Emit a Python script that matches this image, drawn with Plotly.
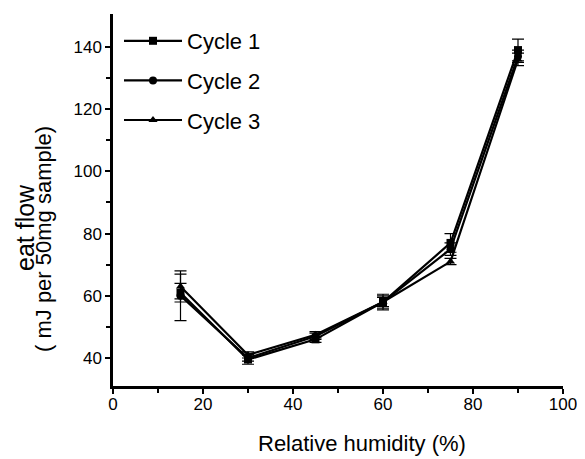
import plotly.graph_objects as go

humidity = [15, 30, 45, 60, 75, 90]
cycle1 = [61, 39.5, 46, 58, 77, 139]
cycle1_err = [3, 1.5, 1, 2, 3, 3.5]
cycle2 = [60, 40, 47, 58, 75, 137]
cycle2_err = [8, 1, 1, 1.5, 2, 2]
cycle3 = [63, 41, 47.5, 58, 71, 136]
cycle3_err = [4, 1, 1, 2.5, 1, 2]

series = [
    ("Cycle 1", cycle1, cycle1_err, "square"),
    ("Cycle 2", cycle2, cycle2_err, "circle"),
    ("Cycle 3", cycle3, cycle3_err, "triangle-up"),
]

# page body has an 8px default margin; lay out in window pixels
OFF = 8
W, H = 585 - OFF, 459 - OFF
PL, PR, PT, PB = 113, 563, 14, 386  # plot area in window pixels


def px(x):
    return (x - PL) / (PR - PL)


def py(y):
    return (PB - y) / (PB - PT)


fig = go.Figure()
for name, vals, err, sym in series:
    fig.add_trace(go.Scatter(
        x=humidity, y=vals, name=name, mode="lines+markers", legendgroup=name,
        line=dict(color="black", width=2.2),
        marker=dict(symbol=sym, size=8, color="black"),
        error_y=dict(type="data", array=err, visible=True, color="black", thickness=1.2, width=6),
    ))

font_family = "Liberation Sans, Arial, sans-serif"
fig.update_layout(
    width=W, height=H,
    margin=dict(l=PL - OFF, r=585 - PR, t=PT - OFF, b=459 - PB),
    paper_bgcolor="white", plot_bgcolor="white",
    font=dict(family=font_family, color="black", size=17),
    showlegend=True,
    legend=dict(x=px(119), y=py(20), xanchor="left", yanchor="top", bgcolor="rgba(0,0,0,0)",
                font=dict(size=22), itemwidth=58, tracegroupgap=8),
    xaxis=dict(range=[0, 100], tickvals=[0, 20, 40, 60, 80, 100], showline=True, linewidth=2.5,
               linecolor="black", ticks="outside", ticklen=5, tickwidth=1.5, tickcolor="black",
               showgrid=False, zeroline=False, tickfont=dict(size=17), ticklabelstandoff=-4,
               minor=dict(tickvals=[10, 30, 50, 70, 90], ticks="outside", ticklen=4, tickcolor="black")),
    yaxis=dict(range=[31, 150.6], tickvals=[40, 60, 80, 100, 120, 140], showline=True, linewidth=2.5,
               linecolor="black", ticks="outside", ticklen=5, tickwidth=1.5, tickcolor="black",
               showgrid=False, zeroline=False, tickfont=dict(size=17),
               minor=dict(tickvals=[50, 70, 90, 110, 130], ticks="outside", ticklen=4, tickcolor="black")),
    annotations=[
        dict(text="eat flow", textangle=-90, xref="paper", yref="paper",
             x=px(25), y=py(228), xanchor="center", yanchor="middle",
             showarrow=False, font=dict(size=25)),
        dict(text="( mJ per 50mg sample)", textangle=-90, xref="paper", yref="paper",
             x=px(43), y=py(239), xanchor="center", yanchor="middle",
             showarrow=False, font=dict(size=22)),
        dict(text="Relative humidity (%)", xref="paper", yref="paper",
             x=px(362), y=py(443), xanchor="center", yanchor="middle",
             showarrow=False, font=dict(size=22)),
    ],
)

fig.write_html("out.html")
